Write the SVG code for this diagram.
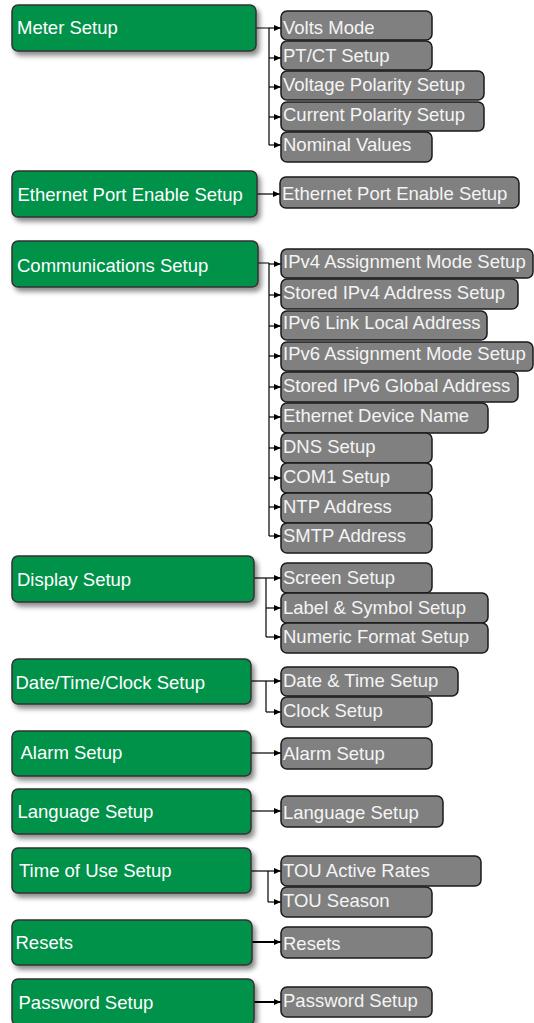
<svg xmlns="http://www.w3.org/2000/svg" width="534" height="1023" viewBox="0 0 534 1023">
<style>
.g rect{fill:#00924A;stroke:#333;stroke-width:1.5;filter:url(#sh)}
.s rect{fill:#808080;stroke:#1a1a1a;stroke-width:1.5}
text{font-family:"Liberation Sans",Arial,sans-serif;font-size:18.5px;fill:#fff}
.s text{fill:#f4f4f4}
.c path{fill:none;stroke:#000;stroke-width:1.2}
.c .t{stroke-width:2}
</style>
<defs>
<filter id="sh" x="-10%" y="-20%" width="130%" height="160%">
<feDropShadow dx="3" dy="4" stdDeviation="2.5" flood-color="#000" flood-opacity="0.45"/>
</filter>
<marker id="a" markerUnits="userSpaceOnUse" markerWidth="8" markerHeight="8" refX="7" refY="4" orient="auto">
<path d="M0,1 L7,4 L0,7 Z" fill="#000"/>
</marker>
</defs>
<g class="c" id="connectors">
<path d="M256,28 H269 M269,28 V145"/>
<path d="M269,28 H281" marker-end="url(#a)"/>
<path d="M269,58 H281" marker-end="url(#a)"/>
<path d="M269,87 H281" marker-end="url(#a)"/>
<path d="M269,117 H281" marker-end="url(#a)"/>
<path d="M269,145 H281" marker-end="url(#a)"/>
<path d="M257,194 H280" marker-end="url(#a)"/>
<path d="M258,263 H269 M269,263 V536"/>
<path d="M269,264 H281" marker-end="url(#a)"/>
<path d="M269,295 H281" marker-end="url(#a)"/>
<path d="M269,326 H281" marker-end="url(#a)"/>
<path d="M269,356 H281" marker-end="url(#a)"/>
<path d="M269,387 H281" marker-end="url(#a)"/>
<path d="M269,417 H281" marker-end="url(#a)"/>
<path d="M269,448 H281" marker-end="url(#a)"/>
<path d="M269,478 H281" marker-end="url(#a)"/>
<path d="M269,507 H281" marker-end="url(#a)"/>
<path d="M269,536 H281" marker-end="url(#a)"/>
<path d="M254,578 H281" marker-end="url(#a)"/>
<path d="M266,578 V637"/>
<path d="M266,608 H281" marker-end="url(#a)"/>
<path d="M266,637 H281" marker-end="url(#a)"/>
<path d="M251,681 H281" marker-end="url(#a)"/>
<path d="M266,681 V712"/>
<path d="M266,712 H281" marker-end="url(#a)"/>
<path d="M251,753 H281" marker-end="url(#a)"/>
<path d="M251,811 H281" marker-end="url(#a)"/>
<path d="M251,871 H281" marker-end="url(#a)"/>
<path d="M268,871 V902"/>
<path d="M268,902 H281" marker-end="url(#a)"/>
<path class="t" d="M252,942 H281" marker-end="url(#a)"/>
<path class="t" d="M254,1002 H281" marker-end="url(#a)"/>
</g>
<g class="g" id="meter-setup"><rect x="12" y="5" width="244" height="46" rx="6"/><text x="17" y="34">Meter Setup</text></g>
<g class="g" id="ethernet-port"><rect x="12" y="171" width="245" height="46" rx="6"/><text x="17.5" y="201">Ethernet Port Enable Setup</text></g>
<g class="g" id="communications"><rect x="12" y="241" width="246" height="46" rx="6"/><text x="17" y="272">Communications Setup</text></g>
<g class="g" id="display"><rect x="12" y="556" width="242" height="46" rx="6"/><text x="17" y="586">Display Setup</text></g>
<g class="g" id="datetime"><rect x="12" y="659" width="239" height="45" rx="6"/><text x="15.5" y="689">Date/Time/Clock Setup</text></g>
<g class="g" id="alarm"><rect x="12" y="731" width="239" height="45" rx="6"/><text x="20.5" y="759">Alarm Setup</text></g>
<g class="g" id="language"><rect x="12" y="789" width="239" height="45" rx="6"/><text x="17.5" y="818">Language Setup</text></g>
<g class="g" id="tou"><rect x="12" y="848" width="239" height="45" rx="6"/><text x="19" y="877">Time of Use Setup</text></g>
<g class="g" id="resets"><rect x="12" y="920" width="240" height="45" rx="6"/><text x="15.5" y="949">Resets</text></g>
<g class="g" id="password"><rect x="12" y="979" width="242" height="46" rx="6"/><text x="18.5" y="1009">Password Setup</text></g>
<g class="s" id="volts-mode"><rect x="281" y="11" width="151" height="29" rx="6"/><text x="283" y="34">Volts Mode</text></g>
<g class="s" id="ptct"><rect x="281" y="41" width="151" height="29" rx="6"/><text x="283" y="62">PT/CT Setup</text></g>
<g class="s" id="vpol"><rect x="281" y="71" width="203" height="29" rx="6"/><text x="283" y="91">Voltage Polarity Setup</text></g>
<g class="s" id="cpol"><rect x="281" y="102" width="203" height="29" rx="6"/><text x="283" y="121">Current Polarity Setup</text></g>
<g class="s" id="nominal"><rect x="281" y="132" width="151" height="30" rx="6"/><text x="283" y="151">Nominal Values</text></g>
<g class="s" id="eth-enable"><rect x="280" y="177" width="239" height="31" rx="6"/><text x="282" y="200">Ethernet Port Enable Setup</text></g>
<g class="s" id="ipv4-mode"><rect x="281" y="249" width="252" height="29" rx="6"/><text x="283" y="268">IPv4 Assignment Mode Setup</text></g>
<g class="s" id="ipv4-stored"><rect x="281" y="279" width="237" height="30" rx="6"/><text x="283" y="299">Stored IPv4 Address Setup</text></g>
<g class="s" id="ipv6-link"><rect x="281" y="311" width="206" height="29" rx="6"/><text x="283" y="329">IPv6 Link Local Address</text></g>
<g class="s" id="ipv6-mode"><rect x="281" y="342" width="252" height="29" rx="6"/><text x="283" y="360">IPv6 Assignment Mode Setup</text></g>
<g class="s" id="ipv6-stored"><rect x="281" y="372" width="237" height="30" rx="6"/><text x="283" y="391.5">Stored IPv6 Global Address</text></g>
<g class="s" id="eth-name"><rect x="281" y="403" width="207" height="30" rx="6"/><text x="283" y="422">Ethernet Device Name</text></g>
<g class="s" id="dns"><rect x="281" y="433" width="151" height="30" rx="6"/><text x="283" y="453">DNS Setup</text></g>
<g class="s" id="com1"><rect x="281" y="463" width="151" height="30" rx="6"/><text x="283" y="482.5">COM1 Setup</text></g>
<g class="s" id="ntp"><rect x="281" y="493" width="151" height="30" rx="6"/><text x="283" y="512.5">NTP Address</text></g>
<g class="s" id="smtp"><rect x="281" y="523" width="151" height="30" rx="6"/><text x="283" y="541.5">SMTP Address</text></g>
<g class="s" id="screen"><rect x="281" y="563" width="151" height="30" rx="6"/><text x="283" y="584">Screen Setup</text></g>
<g class="s" id="label-symbol"><rect x="281" y="593" width="207" height="30" rx="6"/><text x="283" y="614">Label &amp; Symbol Setup</text></g>
<g class="s" id="numeric"><rect x="281" y="623" width="207" height="30" rx="6"/><text x="283" y="642.5">Numeric Format Setup</text></g>
<g class="s" id="date-time"><rect x="281" y="667" width="177" height="29" rx="6"/><text x="283" y="686.5">Date &amp; Time Setup</text></g>
<g class="s" id="clock"><rect x="281" y="697" width="151" height="30" rx="6"/><text x="283" y="716.5">Clock Setup</text></g>
<g class="s" id="alarm-sub"><rect x="281" y="738" width="151" height="31" rx="6"/><text x="283" y="760">Alarm Setup</text></g>
<g class="s" id="language-sub"><rect x="281" y="796" width="162" height="31" rx="6"/><text x="283" y="819">Language Setup</text></g>
<g class="s" id="tou-rates"><rect x="281" y="856" width="200" height="30" rx="6"/><text x="283" y="876.5">TOU Active Rates</text></g>
<g class="s" id="tou-season"><rect x="281" y="887" width="151" height="30" rx="6"/><text x="283" y="907">TOU Season</text></g>
<g class="s" id="resets-sub"><rect x="281" y="927" width="151" height="31" rx="6"/><text x="283" y="950">Resets</text></g>
<g class="s" id="password-sub"><rect x="281" y="987" width="151" height="30" rx="6"/><text x="283" y="1007">Password Setup</text></g>
</svg>
